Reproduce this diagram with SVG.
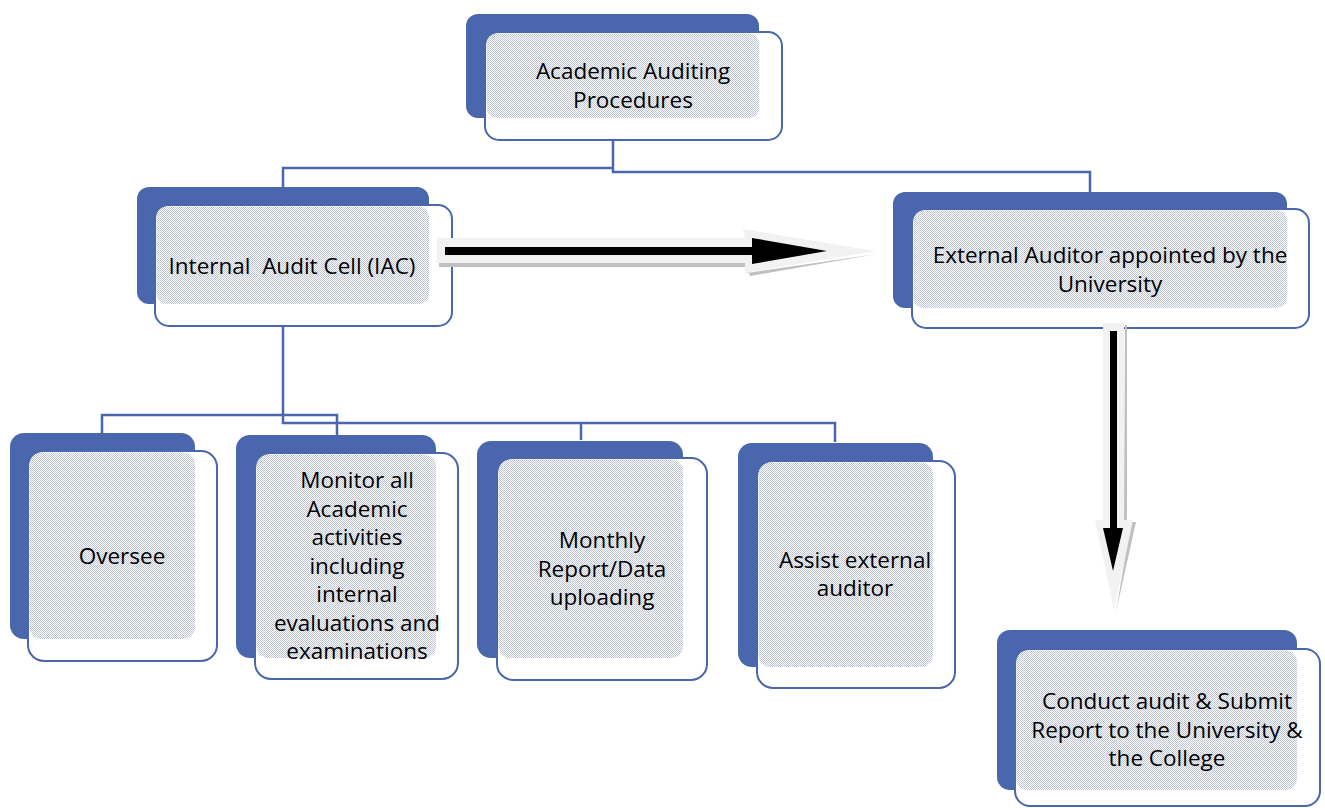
<svg xmlns="http://www.w3.org/2000/svg" width="1325" height="808" viewBox="0 0 1325 808">
<style>
.back{fill:#4a66ac}
.front{fill:#fff;stroke:#4a66ac;stroke-width:2}
.pat{fill:url(#dots)}
.txt{font-family:"Open Sans","Liberation Sans",sans-serif;font-size:22.5px;fill:#000;text-anchor:middle;white-space:pre}
.conn{fill:none;stroke:#4a66ac;stroke-width:2.5}
.aout{fill:#f2f2f2}
.ashadow{fill:#c0c0c0}
.ain{fill:#000}
</style>
<defs>
<pattern id="dots" width="2" height="2" patternUnits="userSpaceOnUse">
<rect width="2" height="2" fill="#fff"/>
<rect width="1" height="1" fill="#bcc3d6"/>
<rect x="1" y="1" width="1" height="1" fill="#bcc3d6"/>
</pattern>
</defs>
<g id="connectors">
<path class="conn" d="M613 140 V172 H1090 V192"/>
<path class="conn" d="M613 168 H283 V188"/>
<path class="conn" d="M283 326 V423 H835 V442"/>
<path class="conn" d="M581 423 V440"/>
<path class="conn" d="M102 433 V415 H337 V435"/>
</g>
<g id="node-top">
<rect class="back" x="466" y="14" width="293" height="104" rx="12"/>
<rect class="front" x="485" y="32" width="297" height="108" rx="14"/>
<rect class="pat" x="486.5" y="33.5" width="272.5" height="84.5" rx="10"/>
<text class="txt" x="633" y="79">Academic Auditing</text>
<text class="txt" x="633" y="108">Procedures</text>
</g>
<g id="node-iac">
<rect class="back" x="137" y="187" width="292" height="117" rx="12"/>
<rect class="front" x="155" y="205" width="297" height="121" rx="14"/>
<rect class="pat" x="156.5" y="206.5" width="272.5" height="97.5" rx="10"/>
<text class="txt" x="292" y="274">Internal  Audit Cell (IAC)</text>
</g>
<g id="node-external">
<rect class="back" x="893" y="192" width="394" height="116" rx="12"/>
<rect class="front" x="912" y="209" width="397" height="119" rx="14"/>
<rect class="pat" x="913.5" y="210.5" width="373.5" height="97.5" rx="10"/>
<text class="txt" x="1110" y="263">External Auditor appointed by the</text>
<text class="txt" x="1110" y="292">University</text>
</g>
<g id="node-oversee">
<rect class="back" x="10" y="433" width="185" height="206" rx="14"/>
<rect class="front" x="28" y="451" width="189" height="210" rx="16"/>
<rect class="pat" x="29.5" y="452.5" width="165.5" height="186.5" rx="12"/>
<text class="txt" x="122" y="564">Oversee</text>
</g>
<g id="node-monitor">
<rect class="back" x="236" y="435" width="200" height="223" rx="14"/>
<rect class="front" x="255" y="453" width="203" height="226" rx="16"/>
<rect class="pat" x="256.5" y="454.5" width="179.5" height="203.5" rx="12"/>
<text class="txt" x="357" y="488">Monitor all</text>
<text class="txt" x="357" y="517">Academic</text>
<text class="txt" x="357" y="545">activities</text>
<text class="txt" x="357" y="574">including</text>
<text class="txt" x="357" y="602">internal</text>
<text class="txt" x="357" y="631">evaluations and</text>
<text class="txt" x="357" y="659">examinations</text>
</g>
<g id="node-monthly">
<rect class="back" x="477" y="441" width="206" height="217" rx="14"/>
<rect class="front" x="497" y="458" width="210" height="222" rx="16"/>
<rect class="pat" x="498.5" y="459.5" width="184.5" height="198.5" rx="12"/>
<text class="txt" x="602" y="548">Monthly</text>
<text class="txt" x="602" y="577">Report/Data</text>
<text class="txt" x="602" y="605">uploading</text>
</g>
<g id="node-assist">
<rect class="back" x="738" y="443" width="195" height="224" rx="14"/>
<rect class="front" x="757" y="461" width="198" height="227" rx="16"/>
<rect class="pat" x="758.5" y="462.5" width="174.5" height="204.5" rx="12"/>
<text class="txt" x="855" y="568">Assist external</text>
<text class="txt" x="855" y="596">auditor</text>
</g>
<g id="node-conduct">
<rect class="back" x="997" y="630" width="300" height="160" rx="13"/>
<rect class="front" x="1015" y="649" width="305" height="157" rx="15"/>
<rect class="pat" x="1016.5" y="650.5" width="280.5" height="139.5" rx="11"/>
<text class="txt" x="1167" y="709">Conduct audit &amp; Submit</text>
<text class="txt" x="1167" y="738">Report to the University &amp;</text>
<text class="txt" x="1167" y="766">the College</text>
</g>
<g id="arrows">
<polygon class="ashadow" points="439,262 747,262 747,273 877,254 750,276 747,267 439,267"/>
<polygon class="aout" points="437,238 745,238 743,229 875,251 745,273 745,263 437,263"/>
<polygon class="ain" points="445,247 752,247 752,238 827,251 752,264 752,255 445,255"/>
<polygon class="ashadow" points="1125,325 1127,325 1127,522 1136,522 1116,612 1131,522 1124,522"/>
<polygon class="aout" points="1103,323 1124,323 1124,520 1133,520 1114,610 1095,520 1103,520"/>
<polygon class="ain" points="1110,331 1117,331 1117,528 1123,528 1113,571 1103,528 1110,528"/>
</g>
</svg>
